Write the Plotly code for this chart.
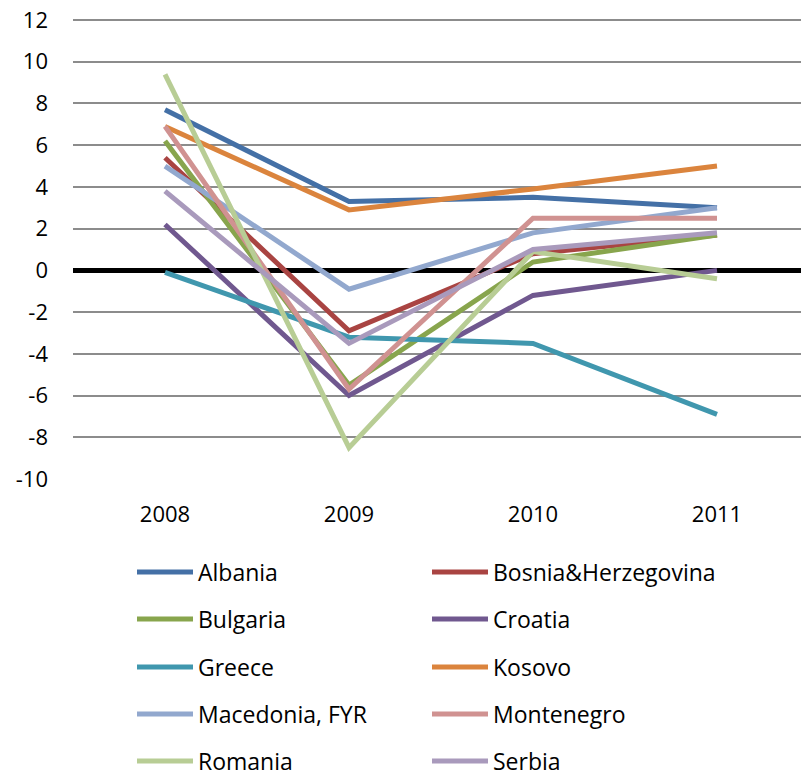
import plotly.graph_objects as go

years = ["2008", "2009", "2010", "2011"]
countries = ["Albania", "Bosnia&Herzegovina", "Bulgaria", "Croatia", "Greece",
             "Kosovo", "Macedonia, FYR", "Montenegro", "Romania", "Serbia"]
albania = [7.7, 3.3, 3.5, 3.0]
bosnia = [5.4, -2.9, 0.8, 1.7]
bulgaria = [6.2, -5.5, 0.4, 1.7]
croatia = [2.2, -6.0, -1.2, 0.0]
greece = [-0.1, -3.2, -3.5, -6.9]
kosovo = [6.9, 2.9, 3.9, 5.0]
macedonia = [5.0, -0.9, 1.8, 3.0]
montenegro = [6.9, -5.7, 2.5, 2.5]
romania = [9.4, -8.5, 0.9, -0.4]
serbia = [3.8, -3.5, 1.0, 1.8]
series = [albania, bosnia, bulgaria, croatia, greece, kosovo, macedonia, montenegro, romania, serbia]
colors = ["#4470A6", "#A94442", "#88A54D", "#70588F", "#4097AE",
          "#DB843D", "#92A8CE", "#D09291", "#B8CD95", "#A99ABC"]
y_ticks = list(range(-10, 13, 2))
y_ticktext = [str(v) for v in y_ticks]

# page body has an 8px margin, so figure coords = screen coords - 8
OFF = 8
W, H = 809, 776
L, R, T, B = 73 - OFF, OFF, 20 - OFF - 1, H - (479 - OFF)
pw = W - L - R
ph = H - T - B
FONT = "Open Sans"
FS = 22

fig = go.Figure()
for i, (name, vals, col) in enumerate(zip(countries, series, colors)):
    row = i // 2
    fig.add_trace(go.Scatter(
        x=years, y=vals, name=name, mode="lines",
        line=dict(color=col, width=5),
        legend="legend" if row == 0 else f"legend{row + 1}",
    ))

row_y = [572, 619, 667, 714, 761]
legends = {}
for r, yy in enumerate(row_y):
    key = "legend" if r == 0 else f"legend{r + 1}"
    legends[key] = dict(
        orientation="h", x=(132 - OFF - L) / pw, xanchor="left",
        y=1 - (yy - OFF - T) / ph, yanchor="middle",
        entrywidth=224, entrywidthmode="pixels", itemwidth=56,
        font=dict(family=FONT, size=23, color="#000"),
        bgcolor="rgba(0,0,0,0)", itemclick=False,
    )

fig.update_layout(
    width=W, height=H,
    margin=dict(l=L, r=R, t=T, b=B, pad=0, autoexpand=False),
    paper_bgcolor="white", plot_bgcolor="white",
    font=dict(family=FONT, size=FS, color="#000"),
    showlegend=True,
    xaxis=dict(type="category", range=[-0.5, 3.5], showgrid=False, showline=False,
               ticks="", ticklabelstandoff=20, zeroline=False, automargin=False,
               ticklabeloverflow="allow",
               tickfont=dict(family=FONT, size=FS, color="#000")),
    yaxis=dict(range=[-10, 12.05], tickvals=y_ticks, ticktext=y_ticktext,
               showgrid=True, gridcolor="#8C8C8C",
               gridwidth=1.7, zeroline=True, zerolinecolor="#000", zerolinewidth=5,
               showline=False, ticks="", ticklabelstandoff=24, automargin=False,
               ticklabeloverflow="allow",
               tickfont=dict(family=FONT, size=FS, color="#000")),
    **legends,
)

fig.write_html("out.html")
